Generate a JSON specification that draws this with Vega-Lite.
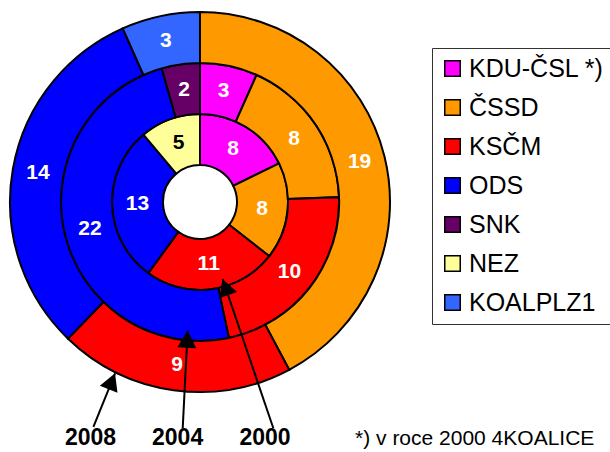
{
  "$schema": "https://vega.github.io/schema/vega-lite/v6.json",
  "width": 400,
  "height": 404,
  "padding": 0,
  "background": "white",
  "config": {
    "view": {"stroke": null},
    "font": "Liberation Sans",
    "legend": {
      "orient": "none",
      "legendX": 432,
      "legendY": 48,
      "padding": 8,
      "strokeColor": "#333333",
      "strokeWidth": 1,
      "fillColor": "white",
      "labelFont": "Liberation Sans",
      "labelFontSize": 25,
      "labelColor": "black",
      "labelLimit": 400,
      "labelOffset": 4,
      "symbolType": "square",
      "symbolSize": 240,
      "symbolStrokeColor": "black",
      "symbolStrokeWidth": 1.5,
      "symbolOpacity": 1,
      "rowPadding": 13
    }
  },
  "datasets": {
    "seats": [
      {"year": 2000, "party": "KDU-ČSL", "ord": 1, "seats": 8},
      {"year": 2000, "party": "ČSSD", "ord": 2, "seats": 8},
      {"year": 2000, "party": "KSČM", "ord": 3, "seats": 11},
      {"year": 2000, "party": "ODS", "ord": 4, "seats": 13},
      {"year": 2000, "party": "NEZ", "ord": 6, "seats": 5},
      {"year": 2004, "party": "KDU-ČSL", "ord": 1, "seats": 3},
      {"year": 2004, "party": "ČSSD", "ord": 2, "seats": 8},
      {"year": 2004, "party": "KSČM", "ord": 3, "seats": 10},
      {"year": 2004, "party": "ODS", "ord": 4, "seats": 22},
      {"year": 2004, "party": "SNK", "ord": 5, "seats": 2},
      {"year": 2008, "party": "ČSSD", "ord": 2, "seats": 19},
      {"year": 2008, "party": "KSČM", "ord": 3, "seats": 9},
      {"year": 2008, "party": "ODS", "ord": 4, "seats": 14},
      {"year": 2008, "party": "KOALPLZ1", "ord": 7, "seats": 3}
    ],
    "arrows": [
      {"label": "2008", "x": -0.561, "y": -1.183, "x2": -0.447, "y2": -0.902, "lx": -0.576, "ly": -1.244},
      {"label": "2004", "x": -0.091, "y": -1.191, "x2": -0.065, "y2": -0.677, "lx": -0.118, "ly": -1.244},
      {"label": "2000", "x": 0.386, "y": -1.191, "x2": 0.119, "y2": -0.405, "lx": 0.342, "ly": -1.244}
    ],
    "notes": [
      {"text": "*) v roce 2000 4KOALICE", "x": 0.816, "y": -1.247}
    ]
  },
  "layer": [
    {
      "data": {"name": "seats"},
      "transform": [{"filter": "datum.year == 2000"}],
      "mark": {"type": "arc", "innerRadius": 37, "outerRadius": 88, "stroke": "black", "strokeWidth": 2},
      "encoding": {
        "theta": {"field": "seats", "type": "quantitative", "stack": true},
        "order": {"field": "ord", "type": "quantitative"},
        "color": {
          "field": "party", "type": "nominal", "title": null,
          "scale": {
            "domain": ["KDU-ČSL", "ČSSD", "KSČM", "ODS", "SNK", "NEZ", "KOALPLZ1"],
            "range": ["#FF00FF", "#FF9900", "#FF0000", "#0000FF", "#660066", "#FFFF99", "#3366FF"]
          },
          "legend": {"labelExpr": "datum.label == 'KDU-ČSL' ? 'KDU-ČSL *)' : datum.label"}
        }
      }
    },
    {
      "data": {"name": "seats"},
      "transform": [{"filter": "datum.year == 2004"}],
      "mark": {"type": "arc", "innerRadius": 88, "outerRadius": 139, "stroke": "black", "strokeWidth": 2},
      "encoding": {
        "theta": {"field": "seats", "type": "quantitative", "stack": true},
        "order": {"field": "ord", "type": "quantitative"},
        "color": {"field": "party", "type": "nominal"}
      }
    },
    {
      "data": {"name": "seats"},
      "transform": [{"filter": "datum.year == 2008"}],
      "mark": {"type": "arc", "innerRadius": 139, "outerRadius": 190, "stroke": "black", "strokeWidth": 2},
      "encoding": {
        "theta": {"field": "seats", "type": "quantitative", "stack": true},
        "order": {"field": "ord", "type": "quantitative"},
        "color": {"field": "party", "type": "nominal"}
      }
    },
    {
      "data": {"name": "seats"},
      "transform": [{"filter": "datum.year == 2000"}],
      "mark": {"type": "text", "radius": 62.5, "fontSize": 21, "fontWeight": "bold", "baseline": "middle", "align": "center"},
      "encoding": {
        "theta": {"field": "seats", "type": "quantitative", "stack": true},
        "order": {"field": "ord", "type": "quantitative"},
        "text": {"field": "seats", "type": "quantitative"},
        "color": {"condition": {"test": "datum.party == 'NEZ'", "value": "black"}, "value": "white"}
      }
    },
    {
      "data": {"name": "seats"},
      "transform": [{"filter": "datum.year == 2004"}],
      "mark": {"type": "text", "radius": 113.5, "fontSize": 21, "fontWeight": "bold", "baseline": "middle", "align": "center"},
      "encoding": {
        "theta": {"field": "seats", "type": "quantitative", "stack": true},
        "order": {"field": "ord", "type": "quantitative"},
        "text": {"field": "seats", "type": "quantitative"},
        "color": {"value": "white"}
      }
    },
    {
      "data": {"name": "seats"},
      "transform": [{"filter": "datum.year == 2008"}],
      "mark": {"type": "text", "radius": 164.5, "fontSize": 21, "fontWeight": "bold", "baseline": "middle", "align": "center"},
      "encoding": {
        "theta": {"field": "seats", "type": "quantitative", "stack": true},
        "order": {"field": "ord", "type": "quantitative"},
        "text": {"field": "seats", "type": "quantitative"},
        "color": {"value": "white"}
      }
    },
    {
      "data": {"name": "arrows"},
      "mark": {"type": "rule", "color": "black", "strokeWidth": 2},
      "encoding": {
        "x": {"field": "x", "type": "quantitative", "scale": {"domain": [-1.0526, 1.0526], "nice": false, "zero": false}, "axis": null},
        "y": {"field": "y", "type": "quantitative", "scale": {"domain": [-1.0632, 1.0632], "nice": false, "zero": false}, "axis": null},
        "x2": {"field": "x2"},
        "y2": {"field": "y2"}
      }
    },
    {
      "data": {"name": "arrows"},
      "transform": [{"calculate": "atan2(datum.x2 - datum.x, datum.y2 - datum.y) * 180 / PI", "as": "ang"}],
      "mark": {"type": "point", "shape": "M0,0L-1,1.8L1,1.8Z", "size": 361, "filled": true, "color": "black", "opacity": 1, "strokeWidth": 0},
      "encoding": {
        "x": {"field": "x2", "type": "quantitative", "scale": {"domain": [-1.0526, 1.0526], "nice": false, "zero": false}, "axis": null},
        "y": {"field": "y2", "type": "quantitative", "scale": {"domain": [-1.0632, 1.0632], "nice": false, "zero": false}, "axis": null},
        "angle": {"field": "ang", "type": "quantitative", "scale": null}
      }
    },
    {
      "data": {"name": "arrows"},
      "mark": {"type": "text", "fontSize": 23, "fontWeight": "bold", "color": "black", "align": "center", "baseline": "middle"},
      "encoding": {
        "x": {"field": "lx", "type": "quantitative", "scale": {"domain": [-1.0526, 1.0526], "nice": false, "zero": false}, "axis": null},
        "y": {"field": "ly", "type": "quantitative", "scale": {"domain": [-1.0632, 1.0632], "nice": false, "zero": false}, "axis": null},
        "text": {"field": "label", "type": "nominal"}
      }
    },
    {
      "data": {"name": "notes"},
      "mark": {"type": "text", "fontSize": 21, "color": "black", "align": "left", "baseline": "middle"},
      "encoding": {
        "x": {"field": "x", "type": "quantitative", "scale": {"domain": [-1.0526, 1.0526], "nice": false, "zero": false}, "axis": null},
        "y": {"field": "y", "type": "quantitative", "scale": {"domain": [-1.0632, 1.0632], "nice": false, "zero": false}, "axis": null},
        "text": {"field": "text", "type": "nominal"}
      }
    }
  ]
}
